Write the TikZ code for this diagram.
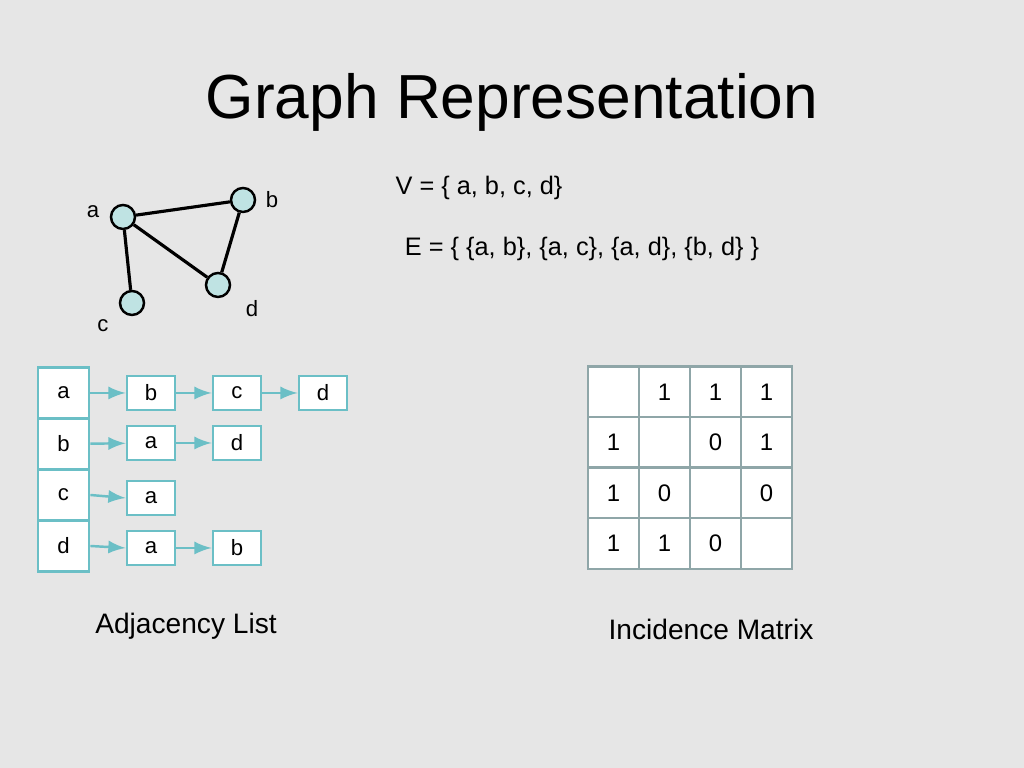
\documentclass[tikz,border=0pt]{standalone}
\usepackage{fontspec}
\setmainfont{Liberation Sans}
\usetikzlibrary{arrows}
\definecolor{bg}{HTML}{E6E6E6}
\definecolor{teal}{HTML}{6BBFC6}
\definecolor{vfill}{HTML}{BFE3E3}
\definecolor{grid}{HTML}{8FA6A8}
\tikzset{
  vert/.style={circle,draw=black,fill=vfill,line width=0.7pt,minimum size=0.24cm,inner sep=0pt},
  lbl/.style={font=\fontsize{6.3}{7}\selectfont},
  head/.style={draw=teal,fill=white,line width=0.8pt,minimum width=0.51cm,minimum height=0.51cm,inner sep=0pt,font=\fontsize{6.3}{7}\selectfont},
  item/.style={draw=teal,fill=white,line width=0.8pt,minimum width=0.48cm,minimum height=0.34cm,inner sep=0pt,font=\fontsize{6.3}{7}\selectfont},
  cell/.style={draw=grid,fill=white,line width=0.8pt,minimum size=0.51cm,inner sep=0pt,font=\fontsize{6.8}{8}\selectfont},
  link/.style={-latex,draw=teal,line width=0.7pt}
}
\begin{document}
\begin{tikzpicture}[x=0.01cm,y=-0.01cm]
\fill[bg] (0,0) rectangle (1024,768);

\node at (512,102) {\fontsize{17.7}{21}\selectfont Graph Representation};

% graph
\node[vert] (a) at (123,217) {};
\node[vert] (b) at (243,200) {};
\node[vert] (c) at (132,303) {};
\node[vert] (d) at (218,285) {};
\draw[line width=0.9pt] (a) -- (b);
\draw[line width=0.9pt] (a) -- (c);
\draw[line width=0.9pt] (a) -- (d);
\draw[line width=0.9pt] (b) -- (d);
\node[lbl] (la) at (93,212) {a};
\node[lbl] (lb) at (272,200) {b};
\node[lbl] (lc) at (103,326) {c};
\node[lbl] (ld) at (252,309) {d};

\node[font=\fontsize{7.2}{8}\selectfont] (V) at (479,188) {V = \{ a, b, c, d\}};
\node[font=\fontsize{7.2}{8}\selectfont] (E) at (582,249) {E = \{ \{a, b\}, \{a, c\}, \{a, d\}, \{b, d\} \}};

% adjacency list
\node[head] (ha) at (63.5,393) {a};
\node[head] (hb) at (63.5,444) {b};
\node[head] (hc) at (63.5,495) {c};
\node[head] (hd) at (63.5,546) {d};

\node[item] (ab) at (151,393) {b};
\node[item] (ac) at (237,393) {c};
\node[item] (ad) at (323,393) {d};
\node[item] (ba) at (151,443) {a};
\node[item] (bd) at (237,443) {d};
\node[item] (ca) at (151,498) {a};
\node[item] (da) at (151,548) {a};
\node[item] (db) at (237,548) {b};

\draw[link] (ha) -- (ab);
\draw[link] (ab) -- (ac);
\draw[link] (ac) -- (ad);
\draw[link] (hb) -- (ba);
\draw[link] (ba) -- (bd);
\draw[link] (hc.east) -- (ca.west);
\draw[link] (hd.east) -- (da.west);
\draw[link] (da) -- (db);

\node (adjl) at (186,626) {\fontsize{8}{10}\selectfont Adjacency List};

% incidence matrix
\foreach \r/\row in {1/{,1,1,1},2/{1,,0,1},3/{1,0,,0},4/{1,1,0,}} {
  \foreach \v [count=\c] in \row {
    \node[cell] (m\r\c) at ({562.5+51*\c},{341.5+50.5*\r}) {\v};
  }
}

\node (incm) at (711,629) {\fontsize{8}{10}\selectfont Incidence Matrix};
\end{tikzpicture}
\end{document}
